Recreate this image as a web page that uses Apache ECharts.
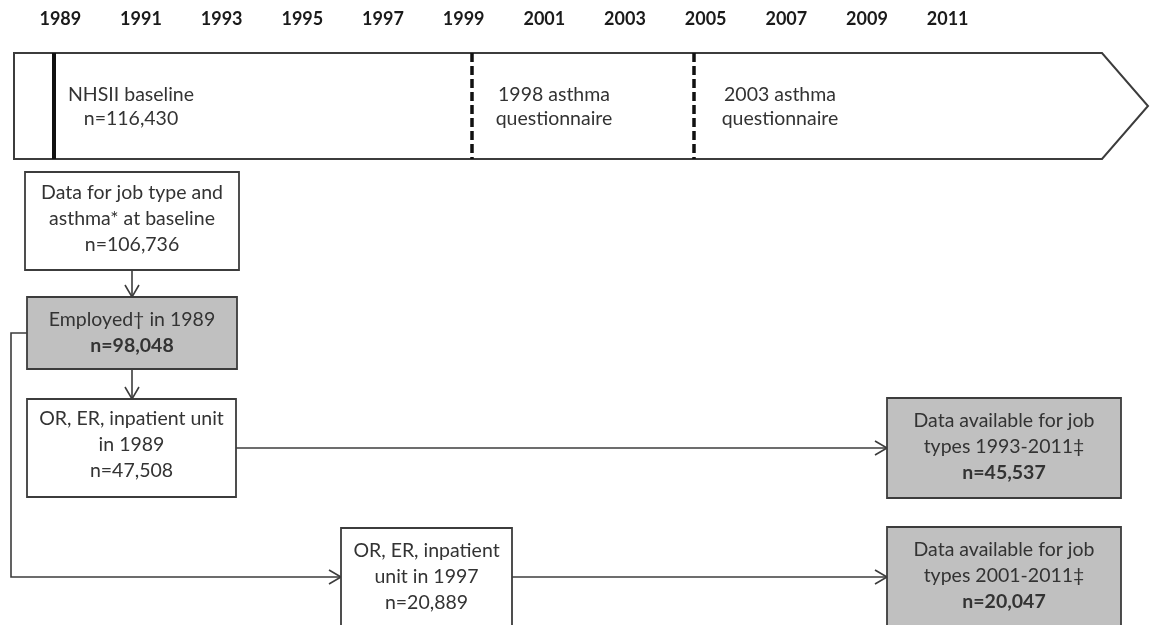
<!DOCTYPE html>
<html lang="en">
<head>
<meta charset="utf-8">
<title>NHSII job type and asthma flowchart</title>
<script src="https://cdn.jsdelivr.net/npm/echarts@6/dist/echarts.min.js"></script>
<style>
    html, body { margin: 0; padding: 0; background: #fff; }
    #chart { width: 1153px; height: 625px; }
</style>
</head>
<body>
<div id="chart"></div>
<script>
    // timeline tick labels
    var years = ['1989', '1991', '1993', '1995', '1997', '1999', '2001', '2003', '2005', '2007', '2009', '2011'];

    // timeline markers
    var markerText = [
        ['NHSII baseline', 'n=116,430'],
        ['1998 asthma', 'questionnaire'],
        ['2003 asthma', 'questionnaire']
    ];
    var markerDashed = [false, true, true];

    // flow boxes, one entry per text line
    var boxText = [
        ['Data for job type and', 'asthma* at baseline', 'n=106,736'],
        ['Employed\u2020 in 1989', 'n=98,048'],
        ['OR, ER, inpatient unit', 'in 1989', 'n=47,508'],
        ['OR, ER, inpatient', 'unit in 1997', 'n=20,889'],
        ['Data available for job', 'types 1993-2011\u2021', 'n=45,537'],
        ['Data available for job', 'types 2001-2011\u2021', 'n=20,047']
    ];
    var boxBoldLast = [false, true, false, false, true, true];
    var boxShaded = [false, true, false, false, true, true];

    // ---- layout, in pixels of the 1153 x 625 page ----
    var band = [14, 53, 1102, 159, 1148];          // x0, y0, body end, y1, tip
    var markerX = [54, 472, 694];
    var markerTextX = [131, 554, 780];
    var boxRect = [
        [25, 172, 239, 270],
        [27, 297, 237, 369],
        [27, 399, 236, 497],
        [341, 528, 512, 640],
        [887, 398, 1121, 498],
        [887, 527, 1121, 640]
    ];
    var boxTextY = [219, 333, 445, 577, 447, 576];
    var arrows = [
        [[132, 270], [132, 297]],
        [[132, 369], [132, 399]],
        [[236, 448], [887, 448]],
        [[27, 333], [11, 333], [11, 577], [341, 577]],
        [[512, 577], [887, 577]]
    ];

    var FONT = 'Lato';
    var TEXT = '#333333';
    var EDGE = '#3c3c3c';

    function textLines(lines, cx, cy, lineH, boldLast, api) {
        var out = [];
        var top = cy - (lines.length - 1) * lineH / 2;
        lines.forEach(function (t, k) {
            var p = api.coord([cx, top + k * lineH]);
            out.push({
                type: 'text', x: p[0], y: p[1],
                style: {
                    text: t, align: 'center', verticalAlign: 'middle',
                    fontFamily: FONT, fontSize: 19.5,
                    fontWeight: (boldLast && k === lines.length - 1) ? 'bold' : 'normal',
                    fill: TEXT
                }
            });
        });
        return out;
    }

    function renderBand(params, api) {
        var pts = [
            [band[0], band[1]], [band[2], band[1]], [band[4], (band[1] + band[3]) / 2],
            [band[2], band[3]], [band[0], band[3]]
        ].map(function (p) { return api.coord(p); });
        return {
            type: 'polygon', shape: { points: pts },
            style: { fill: '#fff', stroke: EDGE, lineWidth: 2 }
        };
    }

    function renderMarker(params, api) {
        var i = params.dataIndex;
        var a = api.coord([markerX[i], band[1]]);
        var b = api.coord([markerX[i], band[3]]);
        var children = [{
            type: 'line', shape: { x1: a[0], y1: a[1], x2: b[0], y2: b[1] },
            style: {
                stroke: '#111', lineWidth: markerDashed[i] ? 3.5 : 4,
                lineDash: markerDashed[i] ? [9, 4] : null
            }
        }];
        return {
            type: 'group',
            children: children.concat(textLines(markerText[i], markerTextX[i], 107, 24, false, api))
        };
    }

    function renderBox(params, api) {
        var i = params.dataIndex;
        var r = boxRect[i];
        var p0 = api.coord([r[0], r[1]]);
        var p1 = api.coord([r[2], r[3]]);
        var rect = {
            type: 'rect',
            shape: { x: p0[0], y: p0[1], width: p1[0] - p0[0], height: p1[1] - p0[1] },
            style: { fill: boxShaded[i] ? '#c0c0c0' : '#fff', stroke: EDGE, lineWidth: 1.8 }
        };
        return {
            type: 'group',
            children: [rect].concat(textLines(boxText[i], (r[0] + r[2]) / 2, boxTextY[i], 26, boxBoldLast[i], api))
        };
    }

    function renderArrow(params, api) {
        var path = arrows[params.dataIndex].map(function (p) { return api.coord(p); });
        var end = path[path.length - 1];
        var prev = path[path.length - 2];
        var dx = end[0] - prev[0], dy = end[1] - prev[1];
        var len = Math.sqrt(dx * dx + dy * dy);
        dx /= len; dy /= len;
        var hl = 12, hw = 7;
        var head = [
            [end[0] - dx * hl - dy * hw, end[1] - dy * hl + dx * hw],
            end,
            [end[0] - dx * hl + dy * hw, end[1] - dy * hl - dx * hw]
        ];
        var st = { stroke: EDGE, lineWidth: 1.6, fill: null };
        return {
            type: 'group',
            children: [
                { type: 'polyline', shape: { points: path }, style: st },
                { type: 'polyline', shape: { points: head }, style: st }
            ]
        };
    }

    var chart = echarts.init(document.getElementById('chart'));
    chart.setOption({
        animation: false,
        grid: [
            // year strip: category centres fall on the printed years
            { left: 20, top: 0, width: 968, height: 4, outerBoundsMode: 'none' },
            // drawing area in page pixels
            { left: 0, top: 0, right: 0, bottom: 0, outerBoundsMode: 'none' }
        ],
        xAxis: [
            {
                gridIndex: 0, type: 'category', data: years, position: 'bottom',
                axisLine: { show: false }, axisTick: { show: false },
                axisLabel: { margin: 6, fontFamily: FONT, fontSize: 18, fontWeight: 'bold', color: '#1a1a1a' }
            },
            { gridIndex: 1, type: 'value', min: 0, max: 1153, show: false }
        ],
        yAxis: [
            { gridIndex: 0, type: 'value', show: false },
            { gridIndex: 1, type: 'value', min: 0, max: 625, inverse: true, show: false }
        ],
        series: [
            { type: 'custom', xAxisIndex: 1, yAxisIndex: 1, renderItem: renderBand, data: [[0]] },
            { type: 'custom', xAxisIndex: 1, yAxisIndex: 1, renderItem: renderMarker, data: markerX.map(function (x, i) { return [i]; }) },
            { type: 'custom', xAxisIndex: 1, yAxisIndex: 1, renderItem: renderArrow, data: arrows.map(function (a, i) { return [i]; }) },
            { type: 'custom', xAxisIndex: 1, yAxisIndex: 1, renderItem: renderBox, data: boxRect.map(function (r, i) { return [i]; }) }
        ]
    });
</script>
</body>
</html>
